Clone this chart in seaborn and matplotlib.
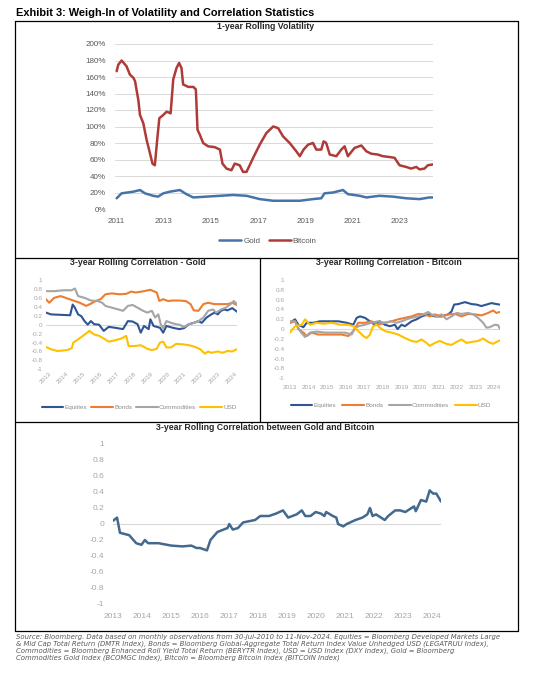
import numpy as np
import pandas as pd
import matplotlib
matplotlib.use("Agg")
import matplotlib.pyplot as plt
import seaborn as sns
from matplotlib.lines import Line2D

# ---------------- data ----------------
# 1-year rolling volatility (%)
vol_btc_years = [2011.00, 2011.07, 2011.21, 2011.42, 2011.56, 2011.71, 2011.78, 2011.92, 2011.99, 2012.13,
                 2012.27, 2012.41, 2012.52, 2012.62, 2012.72, 2012.81, 2012.98, 2013.12, 2013.29, 2013.40,
                 2013.54, 2013.65, 2013.75, 2013.82, 2014.04, 2014.25, 2014.36, 2014.43, 2014.53, 2014.67,
                 2014.88, 2015.16, 2015.38, 2015.49, 2015.66, 2015.87, 2016.01, 2016.22, 2016.36, 2016.51,
                 2016.79, 2017.07, 2017.35, 2017.64, 2017.85, 2018.06, 2018.34, 2018.62, 2018.77, 2018.93,
                 2019.12, 2019.33, 2019.47, 2019.68, 2019.78, 2019.89, 2020.04, 2020.32, 2020.53, 2020.67,
                 2020.81, 2021.09, 2021.38, 2021.59, 2021.80, 2022.08, 2022.29, 2022.58, 2022.79, 2023.00,
                 2023.28, 2023.49, 2023.71, 2023.85, 2024.06, 2024.20, 2024.41]
vol_btc = [167, 175, 180, 173, 163, 159, 155, 132, 114, 104,
           84, 68, 55, 53, 84, 110, 114, 118, 116, 157,
           171, 177, 171, 151, 148, 148, 145, 96, 90, 80,
           76, 75, 72, 55, 49, 47, 55, 53, 45, 45,
           62, 78, 92, 100, 98, 88, 80, 70, 64, 72,
           78, 80, 72, 72, 82, 80, 66, 64, 72, 76,
           64, 74, 77, 70, 67, 66, 64, 63, 62, 53,
           51, 49, 51, 48, 49, 53, 54]
vol_gold_years = [2011.00, 2011.21, 2011.71, 2011.99, 2012.20, 2012.55, 2012.76, 2012.98, 2013.26, 2013.68,
                  2013.96, 2014.25, 2014.81, 2015.38, 2015.94, 2016.51, 2017.07, 2017.64, 2018.20, 2018.77,
                  2019.33, 2019.68, 2019.82, 2020.18, 2020.60, 2020.81, 2021.31, 2021.59, 2022.15, 2022.72,
                  2023.28, 2023.85, 2024.27, 2024.41]
vol_gold = [13, 19, 21, 23, 19, 16, 15, 19, 21, 23,
            18, 14, 15, 16, 17, 16, 12, 10, 10, 10,
            12, 13, 19, 20, 23, 18, 16, 14, 16, 15,
            13, 12, 14, 14]

# 3-year rolling correlation - Gold
g_eq_years = [2013.00, 2013.29, 2013.86, 2014.43, 2014.58, 2014.71, 2014.90, 2015.09, 2015.28, 2015.47,
              2015.66, 2015.85, 2016.14, 2016.42, 2016.71, 2017.09, 2017.56, 2017.85, 2018.13, 2018.42,
              2018.61, 2018.80, 2019.08, 2019.18, 2019.37, 2019.75, 2019.94, 2020.13, 2020.51, 2020.89,
              2021.17, 2021.46, 2021.75, 2022.03, 2022.22, 2022.51, 2022.79, 2022.98, 2023.17, 2023.36,
              2023.55, 2023.74, 2024.03, 2024.31]
g_eq = [0.27, 0.23, 0.22, 0.21, 0.45, 0.38, 0.23, 0.19, 0.08, 0.00,
        0.08, 0.01, 0.00, -0.14, -0.05, -0.07, -0.10, 0.08, 0.07, 0.01,
        -0.18, -0.03, -0.10, 0.12, -0.03, -0.07, -0.18, -0.03, -0.07, -0.10,
        -0.08, 0.01, 0.04, 0.08, 0.04, 0.16, 0.23, 0.27, 0.23, 0.31,
        0.34, 0.32, 0.37, 0.29]
g_bd_years = [2013.00, 2013.19, 2013.48, 2013.86, 2014.24, 2014.62, 2015.00, 2015.38, 2015.66, 2015.95,
              2016.23, 2016.52, 2016.90, 2017.37, 2017.75, 2018.04, 2018.32, 2018.80, 2019.18, 2019.56,
              2019.71, 2019.94, 2020.22, 2020.51, 2020.89, 2021.27, 2021.56, 2021.75, 2022.03, 2022.32,
              2022.60, 2022.98, 2023.36, 2023.74, 2024.03, 2024.31]
g_bd = [0.57, 0.49, 0.60, 0.64, 0.59, 0.54, 0.49, 0.42, 0.47, 0.53,
        0.57, 0.68, 0.70, 0.68, 0.69, 0.74, 0.72, 0.75, 0.78, 0.72,
        0.53, 0.57, 0.53, 0.54, 0.54, 0.53, 0.46, 0.32, 0.31, 0.46,
        0.49, 0.46, 0.46, 0.46, 0.49, 0.44]
g_cm_years = [2013.00, 2013.48, 2014.05, 2014.52, 2014.71, 2014.90, 2015.28, 2015.66, 2016.04, 2016.33,
              2016.52, 2016.90, 2017.28, 2017.56, 2017.85, 2018.13, 2018.42, 2018.70, 2018.99, 2019.27,
              2019.46, 2019.65, 2019.79, 2019.94, 2020.13, 2020.41, 2020.70, 2020.89, 2021.17, 2021.46,
              2021.75, 2022.03, 2022.32, 2022.60, 2022.89, 2023.08, 2023.36, 2023.65, 2023.93, 2024.12,
              2024.31]
g_cm = [0.75, 0.75, 0.77, 0.77, 0.81, 0.64, 0.60, 0.54, 0.53, 0.49,
        0.42, 0.38, 0.34, 0.31, 0.42, 0.44, 0.38, 0.32, 0.27, 0.31,
        0.16, 0.23, 0.01, -0.08, 0.08, 0.04, 0.01, 0.00, -0.05, 0.01,
        0.04, 0.08, 0.16, 0.31, 0.34, 0.27, 0.34, 0.38, 0.46, 0.53,
        0.46]
g_usd_years = [2013.00, 2013.29, 2013.67, 2014.24, 2014.52, 2014.62, 2014.90, 2015.19, 2015.57, 2015.85,
               2016.14, 2016.42, 2016.71, 2017.09, 2017.47, 2017.75, 2017.89, 2018.23, 2018.61, 2018.99,
               2019.27, 2019.56, 2019.75, 2019.94, 2020.13, 2020.41, 2020.70, 2021.08, 2021.46, 2021.84,
               2022.13, 2022.41, 2022.60, 2022.79, 2023.17, 2023.46, 2023.74, 2024.03, 2024.31]
g_usd = [-0.50, -0.55, -0.59, -0.57, -0.53, -0.40, -0.33, -0.25, -0.14, -0.22,
         -0.25, -0.31, -0.38, -0.35, -0.31, -0.25, -0.48, -0.48, -0.46, -0.54,
         -0.57, -0.54, -0.40, -0.38, -0.51, -0.51, -0.43, -0.44, -0.46, -0.50,
         -0.55, -0.65, -0.60, -0.63, -0.60, -0.63, -0.59, -0.60, -0.55]

# 3-year rolling correlation - Bitcoin
b_eq_years = [2013.00, 2013.27, 2013.45, 2013.72, 2013.90, 2014.26, 2014.61, 2015.06, 2015.60, 2016.05,
              2016.41, 2016.59, 2016.77, 2017.04, 2017.30, 2017.57, 2017.84, 2018.11, 2018.38, 2018.65,
              2018.79, 2019.01, 2019.19, 2019.55, 2019.82, 2020.09, 2020.44, 2020.80, 2021.16, 2021.52,
              2021.70, 2021.84, 2022.06, 2022.42, 2022.78, 2023.04, 2023.31, 2023.58, 2023.85, 2024.12,
              2024.30]
b_eq = [0.13, 0.20, 0.09, 0.04, 0.13, 0.13, 0.16, 0.16, 0.16, 0.13,
        0.09, 0.23, 0.26, 0.23, 0.16, 0.09, 0.16, 0.09, 0.06, 0.09,
        0.00, 0.09, 0.06, 0.16, 0.20, 0.26, 0.30, 0.26, 0.26, 0.30,
        0.36, 0.50, 0.51, 0.55, 0.51, 0.50, 0.47, 0.50, 0.53, 0.51,
        0.50]
b_bd_years = [2013.00, 2013.27, 2013.45, 2013.72, 2013.90, 2014.17, 2014.52, 2014.88, 2015.24, 2015.78,
              2016.14, 2016.41, 2016.68, 2017.04, 2017.39, 2017.75, 2018.11, 2018.47, 2018.83, 2019.19,
              2019.55, 2019.91, 2020.26, 2020.53, 2020.80, 2021.16, 2021.52, 2021.88, 2022.24, 2022.60,
              2022.96, 2023.31, 2023.67, 2023.94, 2024.12, 2024.30]
b_bd = [0.13, 0.16, 0.00, -0.07, -0.14, -0.07, -0.11, -0.11, -0.11, -0.11,
        -0.14, -0.04, 0.13, 0.13, 0.16, 0.09, 0.13, 0.16, 0.20, 0.23,
        0.26, 0.31, 0.30, 0.26, 0.30, 0.26, 0.30, 0.31, 0.26, 0.31,
        0.30, 0.28, 0.33, 0.38, 0.33, 0.35]
b_cm_years = [2013.00, 2013.27, 2013.54, 2013.81, 2014.08, 2014.43, 2014.88, 2015.42, 2015.96, 2016.32,
              2016.46, 2016.68, 2017.04, 2017.39, 2017.75, 2018.11, 2018.47, 2018.74, 2019.01, 2019.28,
              2019.55, 2019.91, 2020.17, 2020.44, 2020.62, 2020.89, 2021.16, 2021.43, 2021.70, 2021.97,
              2022.24, 2022.60, 2022.87, 2023.13, 2023.40, 2023.58, 2023.76, 2024.03, 2024.21, 2024.30]
b_cm = [0.16, 0.16, -0.04, -0.16, -0.07, -0.05, -0.07, -0.07, -0.07, -0.11,
        0.00, 0.06, 0.09, 0.13, 0.16, 0.13, 0.16, 0.13, 0.16, 0.20,
        0.23, 0.26, 0.30, 0.35, 0.30, 0.26, 0.30, 0.20, 0.26, 0.33,
        0.31, 0.33, 0.30, 0.23, 0.13, 0.03, 0.04, 0.09, 0.08, 0.01]
b_usd_years = [2013.00, 2013.27, 2013.63, 2013.81, 2014.08, 2014.43, 2014.79, 2015.24, 2015.69, 2016.14,
               2016.41, 2016.68, 2016.95, 2017.13, 2017.30, 2017.48, 2017.66, 2017.84, 2018.11, 2018.47,
               2018.83, 2019.19, 2019.55, 2019.82, 2020.09, 2020.35, 2020.53, 2020.80, 2021.07, 2021.43,
               2021.70, 2021.97, 2022.24, 2022.51, 2022.78, 2023.13, 2023.40, 2023.67, 2023.94, 2024.12,
               2024.30]
b_usd = [-0.07, 0.06, 0.09, 0.20, 0.09, 0.13, 0.11, 0.13, 0.09, 0.09,
         0.06, -0.04, -0.14, -0.18, -0.11, 0.06, 0.09, 0.03, -0.04, -0.07,
         -0.11, -0.18, -0.24, -0.26, -0.21, -0.28, -0.34, -0.28, -0.24, -0.30,
         -0.32, -0.26, -0.21, -0.28, -0.26, -0.24, -0.19, -0.26, -0.30, -0.26,
         -0.23]

# 3-year rolling correlation between Gold and Bitcoin
gb_years = [2013.00, 2013.14, 2013.24, 2013.56, 2013.80, 2013.98, 2014.10, 2014.21, 2014.57, 2015.01,
            2015.40, 2015.70, 2015.88, 2016.00, 2016.24, 2016.36, 2016.60, 2016.95, 2017.01, 2017.13,
            2017.31, 2017.49, 2017.90, 2018.08, 2018.38, 2018.62, 2018.86, 2019.04, 2019.33, 2019.51,
            2019.63, 2019.81, 2019.99, 2020.17, 2020.29, 2020.35, 2020.58, 2020.70, 2020.76, 2020.94,
            2021.06, 2021.24, 2021.36, 2021.60, 2021.77, 2021.86, 2021.95, 2022.07, 2022.37, 2022.49,
            2022.73, 2022.90, 2023.08, 2023.38, 2023.44, 2023.62, 2023.80, 2023.92, 2024.04, 2024.15,
            2024.31]
gb_corr = [0.04, 0.08, -0.11, -0.14, -0.24, -0.26, -0.20, -0.24, -0.24, -0.27,
           -0.28, -0.27, -0.30, -0.30, -0.33, -0.20, -0.10, -0.05, 0.00, -0.07,
           -0.05, 0.02, 0.05, 0.10, 0.10, 0.13, 0.17, 0.08, 0.12, 0.17,
           0.10, 0.10, 0.15, 0.13, 0.10, 0.15, 0.10, 0.08, 0.00, -0.03,
           0.00, 0.03, 0.05, 0.08, 0.12, 0.20, 0.10, 0.12, 0.05, 0.10,
           0.17, 0.17, 0.15, 0.22, 0.16, 0.30, 0.28, 0.42, 0.38, 0.38,
           0.28]

vol_series = ["Gold", "Bitcoin"]
corr_series = ["Equities", "Bonds", "Commodities", "USD"]
vol_ticks = list(range(0, 201, 20))
vol_xticks = list(range(2011, 2024, 2))
corr_ticks = [1, 0.8, 0.6, 0.4, 0.2, 0, -0.2, -0.4, -0.6, -0.8, -1]
corr_tick_labels = ["1", "0.8", "0.6", "0.4", "0.2", "0", "-0.2", "-0.4", "-0.6", "-0.8", "-1"]
corr_xticks = list(range(2013, 2025))

title_main = "Exhibit 3: Weigh-In of Volatility and Correlation Statistics"
title_vol = "1-year Rolling Volatility"
title_gold = "3-year Rolling Correlation - Gold"
title_btc = "3-year Rolling Correlation - Bitcoin"
title_gb = "3-year Rolling Correlation between Gold and Bitcoin"
footnote = [
    "Source: Bloomberg. Data based on monthly observations from 30-Jul-2010 to 11-Nov-2024. Equities = Bloomberg Developed Markets Large",
    "& Mid Cap Total Return (DMTR Index), Bonds = Bloomberg Global-Aggregate Total Return Index Value Unhedged USD (LEGATRUU Index),",
    "Commodities = Bloomberg Enhanced Roll Yield Total Return (BERYTR Index), USD = USD Index (DXY Index), Gold = Bloomberg",
    "Commodities Gold Index (BCOMGC Index), Bitcoin = Bloomberg Bitcoin Index (BITCOIN Index)",
]

# ---------------- style ----------------
sns.set_theme(style="white")
plt.rcParams['font.family'] = ['Liberation Sans', 'DejaVu Sans']
plt.rcParams['axes.unicode_minus'] = False

W, H = 545, 675
fig = plt.figure(figsize=(W / 100, H / 100), dpi=100)
fig.patch.set_facecolor("white")

NARROW = ['Liberation Sans Narrow', 'Liberation Sans', 'DejaVu Sans']


def fx(x):
    return x / W


def fy(y):
    return 1 - y / H


def ax_at(x0, y0, x1, y1):
    return fig.add_axes([fx(x0), fy(y1), (x1 - x0) / W, (y1 - y0) / H])


def long_df(pairs):
    frames = [pd.DataFrame({"year": xs, "value": ys, "series": name}) for name, xs, ys in pairs]
    return pd.concat(frames, ignore_index=True)


def hline(y, x0, x1):
    fig.add_artist(Line2D([fx(x0), fx(x1)], [fy(y), fy(y)], transform=fig.transFigure,
                          color="black", lw=0.9))


def vline(x, y0, y1):
    fig.add_artist(Line2D([fx(x), fx(x)], [fy(y0), fy(y1)], transform=fig.transFigure,
                          color="black", lw=0.9))


# frame
L, R, T, B = 15, 517.5, 20.7, 631
hline(T, L, R); hline(B, L, R); vline(L, T, B); vline(R, T, B)
hline(257.5, L, R); hline(422, L, R); vline(259.5, 257.5, 422)

fig.text(fx(16), fy(13), title_main, family=NARROW, weight="bold", fontsize=7.9,
         ha="left", va="center", color="black")

# ---------------- top: volatility ----------------
vol_colors = {"Gold": "#4673A8", "Bitcoin": "#AE3B37"}
ax1 = ax_at(115, 44, 433, 209)
dfv = long_df([("Gold", vol_gold_years, vol_gold), ("Bitcoin", vol_btc_years, vol_btc)])
sns.lineplot(data=dfv, x="year", y="value", hue="series", hue_order=vol_series,
             palette=vol_colors, estimator=None, sort=False, lw=1.8, legend=False, ax=ax1)
for l in ax1.lines:
    l.set_solid_joinstyle("round")
ax1.set_xlim(2010.93, 2024.42)
ax1.set_ylim(0, 200)
ax1.set_yticks(vol_ticks)
ax1.set_yticklabels([f"{v}%" for v in vol_ticks])
ax1.set_xticks(vol_xticks)
ax1.set_xticklabels([str(v) for v in vol_xticks])
ax1.grid(axis="y", color="#D9D9D9", lw=0.7)
ax1.set_axisbelow(True)
for s in ax1.spines.values():
    s.set_visible(False)
ax1.tick_params(axis="both", length=0, labelsize=5.8, labelcolor="#595959")
ax1.tick_params(axis="y", pad=6.5)
ax1.tick_params(axis="x", pad=6.5)
ax1.set_xlabel(""); ax1.set_ylabel("")
fig.text(fx(266), fy(26.5), title_vol, family=NARROW, weight="bold", fontsize=6.3,
         ha="center", va="center")
h1 = [Line2D([], [], color=vol_colors[s], lw=1.8) for s in vol_series]
leg1 = fig.legend(h1, vol_series, loc="center", bbox_to_anchor=(fx(268), fy(241)), ncol=2,
                  frameon=False, fontsize=5.8, handlelength=2.7, handletextpad=0.25,
                  columnspacing=1.1, labelcolor="#595959")

# ---------------- middle: correlations ----------------
corr_colors = {"Equities": "#2F5597", "Bonds": "#ED7D31", "Commodities": "#A5A5A5", "USD": "#FFC000"}


def corr_axes(ax, pairs, rotate, ypad, xpad, fs):
    df = long_df(pairs)
    sns.lineplot(data=df, x="year", y="value", hue="series", hue_order=corr_series,
                 palette=corr_colors, estimator=None, sort=False, lw=1.5, legend=False, ax=ax)
    for l in ax.lines:
        l.set_solid_joinstyle("round")
    ax.axhline(0, color="#D9D9D9", lw=0.8, zorder=0)
    ax.set_xlim(2013.0, 2024.31)
    ax.set_ylim(-1, 1)
    ax.set_yticks(corr_ticks)
    ax.set_yticklabels(corr_tick_labels)
    ax.set_xticks(corr_xticks)
    if rotate:
        ax.set_xticklabels([str(v) for v in corr_xticks], rotation=45, ha="center")
    else:
        ax.set_xticklabels([str(v) for v in corr_xticks])
    for s in ax.spines.values():
        s.set_visible(False)
    ax.tick_params(axis="both", length=0, labelsize=fs, labelcolor="#A6A6A6")
    ax.tick_params(axis="y", pad=ypad)
    ax.tick_params(axis="x", pad=xpad)
    ax.set_xlabel(""); ax.set_ylabel("")


ax2 = ax_at(46, 280, 237, 369.3)
corr_axes(ax2, [("Equities", g_eq_years, g_eq), ("Bonds", g_bd_years, g_bd),
                ("Commodities", g_cm_years, g_cm), ("USD", g_usd_years, g_usd)],
          rotate=True, ypad=2.5, xpad=1.5, fs=4.6)
fig.text(fx(138), fy(262.5), title_gold, family=NARROW, weight="bold", fontsize=6.3,
         ha="center", va="center")

ax3 = ax_at(290, 280, 500, 378.3)
corr_axes(ax3, [("Equities", b_eq_years, b_eq), ("Bonds", b_bd_years, b_bd),
                ("Commodities", b_cm_years, b_cm), ("USD", b_usd_years, b_usd)],
          rotate=False, ypad=4.0, xpad=5.0, fs=4.6)
fig.text(fx(389), fy(262.5), title_btc, family=NARROW, weight="bold", fontsize=6.3,
         ha="center", va="center")

hc = [Line2D([], [], color=corr_colors[s], lw=1.5) for s in corr_series]
fig.legend(hc, corr_series, loc="center", bbox_to_anchor=(fx(139), fy(407.3)), ncol=4,
           frameon=False, fontsize=4.6, handlelength=3.4, handletextpad=0.2,
           columnspacing=0.6, labelcolor="#8C8C8C")
fig.legend(hc, corr_series, loc="center", bbox_to_anchor=(fx(391), fy(405.7)), ncol=4,
           frameon=False, fontsize=4.6, handlelength=3.4, handletextpad=0.2,
           columnspacing=0.9, labelcolor="#8C8C8C")

# ---------------- bottom: gold vs bitcoin ----------------
ax4 = ax_at(113, 444, 441, 604)
dfb = pd.DataFrame({"year": gb_years, "value": gb_corr})
sns.lineplot(data=dfb, x="year", y="value", color="#44698F", lw=1.8, estimator=None,
             sort=False, ax=ax4)
for l in ax4.lines:
    l.set_solid_joinstyle("round")
ax4.axhline(0, color="#D9D9D9", lw=0.8, zorder=0)
ax4.set_xlim(2013.0, 2024.31)
ax4.set_ylim(-1, 1)
ax4.set_yticks(corr_ticks)
ax4.set_yticklabels(corr_tick_labels)
ax4.set_xticks(corr_xticks)
ax4.set_xticklabels([str(v) for v in corr_xticks])
for s in ax4.spines.values():
    s.set_visible(False)
ax4.tick_params(axis="both", length=0, labelsize=6, labelcolor="#A6A6A6")
ax4.tick_params(axis="y", pad=6.5)
ax4.tick_params(axis="x", pad=6.5)
ax4.set_xlabel(""); ax4.set_ylabel("")
fig.text(fx(265), fy(428), title_gb, family=NARROW, weight="bold", fontsize=6.3,
         ha="center", va="center")

# ---------------- footnote ----------------
for i, line in enumerate(footnote):
    fig.text(fx(16.5), fy(636.5 + i * 7.0), line, fontsize=4.95, style="italic",
             family=['DejaVu Sans'], color="#595959", ha="left", va="center")

fig.savefig("out.png", dpi=100, facecolor="white")
